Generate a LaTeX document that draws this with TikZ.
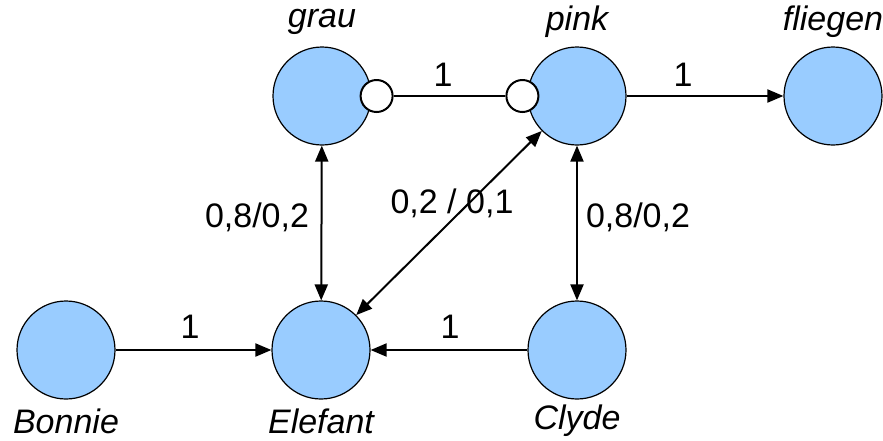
\documentclass[tikz,border=0pt]{standalone}
\usepackage{fontspec}
\setmainfont{Liberation Sans}
\usepackage{tikz}
\usetikzlibrary{arrows.meta, positioning}
\definecolor{nodeblue}{HTML}{99CCFF}
\tikzset{
  concept/.style={circle, draw=black, line width=0.6pt, fill=nodeblue, minimum size=49pt, inner sep=0pt},
  port/.style={circle, draw=black, line width=1pt, fill=white, minimum size=16pt, inner sep=0pt},
  conname/.style={font=\fontsize{17}{20}\selectfont\itshape, inner sep=0pt},
  weight/.style={font=\fontsize{17}{20}\selectfont, inner sep=0pt},
  link/.style={line width=1pt, -{Triangle[length=8pt, width=6.5pt]}},
  duallink/.style={line width=1pt, {Triangle[length=8pt, width=6.5pt]}-{Triangle[length=8pt, width=6.5pt]}},
  plainlink/.style={line width=1pt}
}

\begin{document}
\begin{tikzpicture}[x=0.5pt, y=-0.5pt]
  \useasboundingbox (0,0) rectangle (883,440);

  % concepts
  \node[concept] at (66,350) (bonnie) {};
  \node[concept] at (321,350) (elefant) {};
  \node[concept] at (577,350) (clyde) {};
  \node[concept] at (322,96) (grau) {};
  \node[concept] at (577,96) (pink) {};
  \node[concept] at (833,96) (fliegen) {};

  % names
  \node[conname] at (322,22) (grauname) {grau};
  \node[conname] at (577,22) (pinkname) {pink};
  \node[conname] at (833,22) (fliegenname) {fliegen};
  \node[conname] at (66,421) (bonniename) {Bonnie};
  \node[conname] at (321,421) (elefantname) {Elefant};
  \node[conname] at (577,421) (clydename) {Clyde};

  % grau -- pink with ports
  \node[port] at ([xshift=2.5pt]grau.east) (grauport) {};
  \node[port] at ([xshift=-2.5pt]pink.west) (pinkport) {};
  \draw[plainlink] (grauport) -- (pinkport);
  \node[weight] at (443,75) {1};

  \draw[link] (pink) -- (fliegen);
  \node[weight] at (683,75) {1};

  \draw[link] (bonnie) -- (elefant);
  \node[weight] at (190,327) {1};
  \draw[link] (clyde) -- (elefant);
  \node[weight] at (450,327) {1};

  \draw[duallink] (grau) -- (elefant);
  \node[weight] at (257,217) {0,8/0,2};
  \draw[duallink] (clyde) -- (pink);
  \node[weight] at (638,217) {0,8/0,2};
  \draw[duallink] (elefant) -- (pink);
  \node[weight] at (452,203) {0,2 / 0,1};
\end{tikzpicture}
\end{document}
